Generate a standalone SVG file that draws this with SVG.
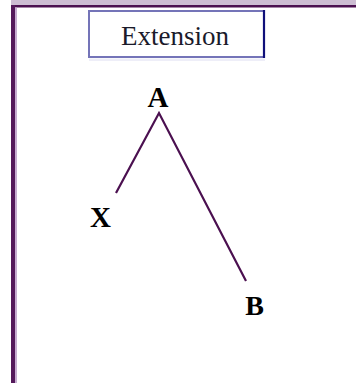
<svg xmlns="http://www.w3.org/2000/svg" width="356" height="383" viewBox="0 0 356 383">
<style>
.lbl{font-family:"Liberation Serif","Times New Roman",serif;font-weight:bold;font-size:29px;fill:#000;text-anchor:middle}
.edge{fill:none;stroke:#4b1050;stroke-width:2.2;stroke-linecap:butt;stroke-linejoin:miter}
</style>
<rect width="356" height="383" fill="#ffffff"/>
<g id="frame">
<rect x="11" y="0" width="345" height="5" fill="#cdbdd3"/>
<rect x="11" y="5" width="345" height="2.5" fill="#4b1050"/>
<rect x="11" y="5" width="4" height="378" fill="#54195a"/>
<rect x="15" y="7.5" width="2" height="375.5" fill="#c6acd0"/>
</g>
<g id="title">
<rect x="89" y="11" width="175" height="46" fill="#ffffff" stroke="#7474b8" stroke-width="2"/>
<line x1="264" y1="10" x2="264" y2="58" stroke="#10107a" stroke-width="2.2"/>
<rect x="89" y="58.5" width="176" height="2.5" fill="#eeeef8"/>
<text x="175" y="45" style="font-family:'Liberation Serif','Times New Roman',serif;font-size:27px;fill:#1a1a2a;text-anchor:middle">Extension</text>
</g>
<g id="connectors">
<polyline class="edge" points="116,193 159,113 246,281"/>
</g>
<g id="node-A"><text class="lbl" x="158" y="107">A</text></g>
<g id="node-X"><text class="lbl" x="100.5" y="227">X</text></g>
<g id="node-B"><text class="lbl" x="254.5" y="315" style="font-size:28px">B</text></g>
</svg>
